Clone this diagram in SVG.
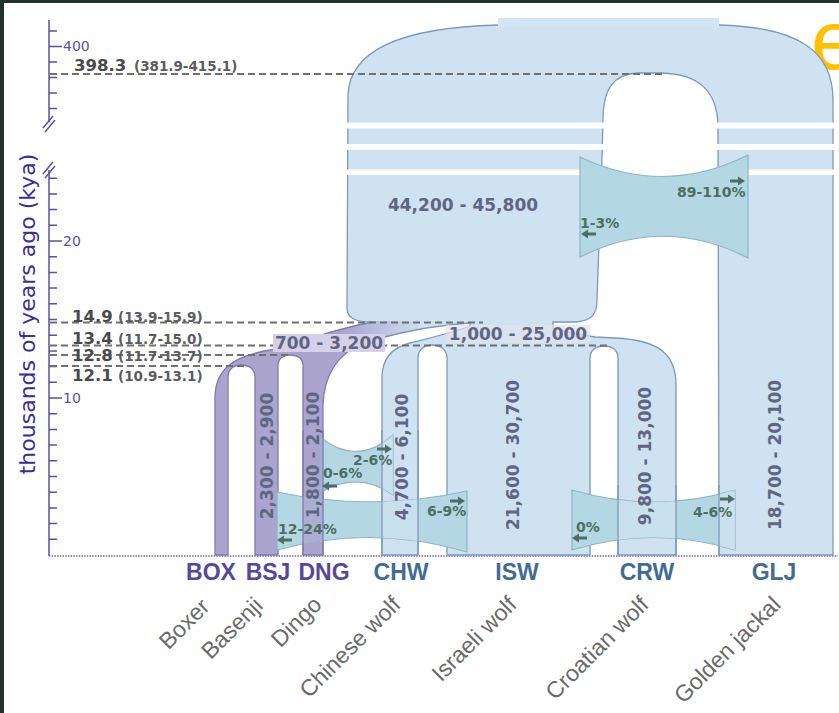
<svg xmlns="http://www.w3.org/2000/svg" xmlns:xlink="http://www.w3.org/1999/xlink" width="839" height="713" viewBox="0 0 839 713">
<style>
.blk{fill:#cfe2f2;stroke:#7c9ab7;stroke-width:1.3}
.band{fill:#b3d8e3;stroke:#8eb5c8;stroke-width:1.2}
.dash{stroke:#707070;stroke-width:2;stroke-dasharray:7 4;fill:none}
.pop{font-family:"DejaVu Sans",sans-serif;font-weight:bold;font-size:17px;fill:#606681}
.mig{font-family:"DejaVu Sans",sans-serif;font-weight:bold;font-size:14px;fill:#4d6e64}
.age{font-family:"DejaVu Sans",sans-serif;font-weight:bold;font-size:16.5px;fill:#4a4a4a}
.ci{font-family:"DejaVu Sans",sans-serif;font-weight:bold;font-size:13.5px;fill:#5c5c5c}
.ax{stroke:#5a51a2;stroke-width:1.5;fill:none}
.tl{font-family:"DejaVu Sans",sans-serif;font-size:14px;fill:#5a51a2}
.code{font-family:"Liberation Sans",Arial,sans-serif;font-weight:bold;font-size:23px;text-anchor:middle}
.dog{fill:#56479a}
.wolf{fill:#3f6c97}
.sp{font-family:"Liberation Sans",Arial,sans-serif;font-size:23px;fill:#6a6a6a;text-anchor:end}
.edge{stroke:#7c9ab7;stroke-width:1.3;fill:none}
.pedge{stroke:#8079b3;stroke-width:1.3;fill:none}
</style>
<defs>
<linearGradient id="dogG" gradientUnits="userSpaceOnUse" x1="425" y1="0" x2="345" y2="0">
<stop offset="0" stop-color="#cfe2f2"/><stop offset="1" stop-color="#aaa4cf"/>
</linearGradient>
<linearGradient id="dogS" gradientUnits="userSpaceOnUse" x1="425" y1="0" x2="345" y2="0">
<stop offset="0" stop-color="#7c9ab7"/><stop offset="1" stop-color="#8079b3"/>
</linearGradient>
<g id="ar"><line x1="0" y1="0" x2="9" y2="0" stroke="#4d6e64" stroke-width="3"/><path d="M8,-4.5L15,0L8,4.5Z" fill="#4d6e64"/></g>
<path id="bA" d="M580,157Q664,197 748,155L748,258Q664,215 580,257Z"/>
<path id="bB" d="M320,437Q357,467 393,435L393,495Q357,470 320,493Z"/>
<path id="bC" d="M277,492Q372,512 467,491L467,552Q372,524 277,550Z"/>
<path id="bD" d="M572,490Q654,514 735,490L735,550Q654,525 572,550Z"/>
<clipPath id="cW"><rect x="382" y="400" width="36" height="160"/><rect x="618" y="400" width="58" height="160"/><rect x="719" y="400" width="114" height="160"/></clipPath>
<clipPath id="cD"><rect x="303" y="400" width="20" height="160"/></clipPath>
</defs>

<rect x="0" y="0" width="839" height="713" fill="#22332c"/>
<rect x="4" y="3" width="835" height="710" fill="#ffffff"/>

<g id="orange-e"><text x="811" y="69" font-family="Liberation Sans,Arial,sans-serif" font-size="84" fill="#ffc000">e</text></g>

<g id="axis">
<path class="ax" d="M49,20V122M49,170V556"/>
<path class="ax" d="M49,31h8M49,46.5h13M49,62h8M49,77.5h8M49,93h8M49,108.5h8"/>
<path class="ax" d="M49,539.3h8M49,523.6h8M49,507.9h8M49,492.2h8M49,476.5h8M49,460.8h8M49,445.1h8M49,429.4h8M49,413.7h8M49,398h13M49,382.3h8M49,366.6h8M49,350.9h8M49,335.2h8M49,319.5h8M49,303.8h8M49,288.1h8M49,272.4h8M49,256.7h8M49,241h13M49,225.3h8M49,209.6h8M49,193.9h8M49,178.2h8"/>
<path class="ax" d="M43,128L53,116M45,132L55,120M43,174L53,162M45,178L55,166" stroke-width="1.2"/>
<line x1="49" y1="556" x2="838" y2="556" stroke="#6d66ad" stroke-width="1.5" stroke-dasharray="1.5 1.2"/>
<text class="tl" x="63" y="51">400</text>
<text class="tl" x="63" y="246">20</text>
<text class="tl" x="63" y="403">10</text>
<text transform="translate(35,314) rotate(-90)" text-anchor="middle" font-family="DejaVu Sans,sans-serif" font-size="22" fill="#3b2f97">thousands of years ago (kya)</text>
</g>

<g id="wolves-root">
<path class="blk" d="M498,25C420,27 350,42 348,95L347,308C347,318 355,322 373,322L470,322L470,326C455,332 430,338 410,343C390,348 382,360 382,378L382,555L418,555L418,358C418,350 424,345 432,345C441,345 447,350 447,358L447,555L590,555L590,358C590,350 596,346 604,346C612,346 618,350 618,358L618,555L676,555L676,385C676,355 660,340 615,338L595,337C575,334 560,330 553,328L553,322L575,322C590,321 597,316 597,300L602,157L603,120C603,88 614,74 638,73L662,73C700,74 717,92 718,125L719,555L833,555L833,100C833,52 800,27 719,25Z"/>
<rect x="498" y="18" width="221" height="9" fill="#d3e5f4"/>
<rect x="344" y="122.5" width="495" height="6" fill="#ffffff"/>
<rect x="344" y="144" width="495" height="6" fill="#ffffff"/>
<rect x="344" y="169.5" width="495" height="5.5" fill="#ffffff"/>
</g>

<g id="dogs">
<path fill="url(#dogG)" d="M373,322C340,327 300,343 270,350C235,356 215,368 215,398L215,555L228,555L228,377C228,369 234,365 241,365C249,365 255,369 255,377L255,555L278,555L278,366C278,358 284,355 290,355C297,355 303,358 303,366L303,555L323,555L323,405C324,375 338,352 365,343C395,333 430,326 470,323L470,321L373,321Z"/>
<path stroke="url(#dogS)" stroke-width="1.3" fill="none" d="M373,322C340,327 300,343 270,350C235,356 215,368 215,398L215,555L228,555L228,377C228,369 234,365 241,365C249,365 255,369 255,377L255,555L278,555L278,366C278,358 284,355 290,355C297,355 303,358 303,366L303,555L323,555L323,405C324,375 338,352 365,343C395,333 430,326 470,323"/>
</g>

<g id="bands">
<use xlink:href="#bB" class="band"/>
<use xlink:href="#bC" class="band"/>
<use xlink:href="#bD" class="band"/>
<g clip-path="url(#cW)" fill="#d3e6f2" opacity="0.7"><use xlink:href="#bB"/><use xlink:href="#bC"/><use xlink:href="#bD"/></g>
<g clip-path="url(#cD)" fill="#aaa4cf" opacity="0.8"><use xlink:href="#bB"/><use xlink:href="#bC"/></g>
<path class="edge" d="M382,430V555M418,430V555M618,485V555M676,485V555M719,485V555"/>
<path class="pedge" d="M303,430V555M323,430V555"/>
<use xlink:href="#bA" class="band"/>
</g>

<g id="dashes">
<line class="dash" x1="50" y1="74" x2="665" y2="74"/>
<line class="dash" x1="50" y1="322.5" x2="483" y2="322.5"/>
<line class="dash" x1="50" y1="345.5" x2="607" y2="345.5"/>
<line class="dash" x1="50" y1="355" x2="290" y2="355"/>
<line class="dash" x1="50" y1="366" x2="245" y2="366"/>
</g>

<g id="age-labels">
<text class="age" x="74" y="71">398.3</text><text class="ci" x="134" y="71" font-size="14">(381.9-415.1)</text>
<text class="age" x="72" y="322">14.9</text><text class="ci" x="118" y="322">(13.9-15.9)</text>
<text class="age" x="72" y="344">13.4</text><text class="ci" x="118" y="344">(11.7-15.0)</text>
<text class="age" x="72" y="361">12.8</text><text class="ci" x="118" y="361">(11.7-13.7)</text>
<text class="age" x="72" y="381">12.1</text><text class="ci" x="118" y="381">(10.9-13.1)</text>
</g>

<g id="pop-sizes">
<text class="pop" x="463" y="211" text-anchor="middle">44,200 - 45,800</text>
<rect x="273" y="334" width="112" height="18" fill="#d6d1ea"/>
<text class="pop" x="329" y="349" text-anchor="middle" fill="#575a7a">700 - 3,200</text>
<rect x="446" y="325" width="144" height="18" fill="#dfe2f0" opacity="0.7"/>
<text class="pop" x="518" y="340" text-anchor="middle">1,000 - 25,000</text>
<text class="pop" transform="translate(273,456) rotate(-90)" text-anchor="middle" font-size="16">2,300 - 2,900</text>
<text class="pop" transform="translate(319,455) rotate(-90)" text-anchor="middle" font-size="16">1,800 - 2,100</text>
<text class="pop" transform="translate(408,457) rotate(-90)" text-anchor="middle" font-size="16">4,700 - 6,100</text>
<text class="pop" transform="translate(519,455) rotate(-90)" text-anchor="middle">21,600 - 30,700</text>
<text class="pop" transform="translate(651,456) rotate(-90)" text-anchor="middle">9,800 - 13,000</text>
<text class="pop" transform="translate(781,455) rotate(-90)" text-anchor="middle">18,700 - 20,100</text>
</g>

<g id="migration">
<text class="mig" x="677" y="197">89-110%</text><use xlink:href="#ar" x="730" y="181"/>
<text class="mig" x="580" y="228">1-3%</text><use xlink:href="#ar" transform="translate(596,234) scale(-1,1)"/>
<text class="mig" x="353" y="465">2-6%</text><use xlink:href="#ar" x="377" y="449"/>
<text class="mig" x="323" y="478">0-6%</text><use xlink:href="#ar" transform="translate(337,486) scale(-1,1)"/>
<text class="mig" x="427" y="516">6-9%</text><use xlink:href="#ar" x="450" y="501"/>
<text class="mig" x="278" y="534">12-24%</text><use xlink:href="#ar" transform="translate(292,540) scale(-1,1)"/>
<text class="mig" x="576" y="532">0%</text><use xlink:href="#ar" transform="translate(587,538) scale(-1,1)"/>
<text class="mig" x="693" y="517">4-6%</text><use xlink:href="#ar" x="720" y="499"/>
</g>

<g id="codes">
<text class="code dog" x="211" y="580">BOX</text>
<text class="code dog" x="268" y="580">BSJ</text>
<text class="code dog" x="324" y="580">DNG</text>
<text class="code wolf" x="401" y="580">CHW</text>
<text class="code wolf" x="517" y="580">ISW</text>
<text class="code wolf" x="647" y="580">CRW</text>
<text class="code wolf" x="774" y="580">GLJ</text>
</g>

<g id="species">
<text class="sp" transform="translate(211,608) rotate(-45)">Boxer</text>
<text class="sp" transform="translate(264,607) rotate(-45)">Basenji</text>
<text class="sp" transform="translate(323,606) rotate(-45)">Dingo</text>
<text class="sp" transform="translate(402,606) rotate(-45)">Chinese wolf</text>
<text class="sp" transform="translate(518,606) rotate(-45)">Israeli wolf</text>
<text class="sp" transform="translate(650,606) rotate(-45)">Croatian wolf</text>
<text class="sp" transform="translate(782,606) rotate(-45)">Golden jackal</text>
</g>
</svg>
